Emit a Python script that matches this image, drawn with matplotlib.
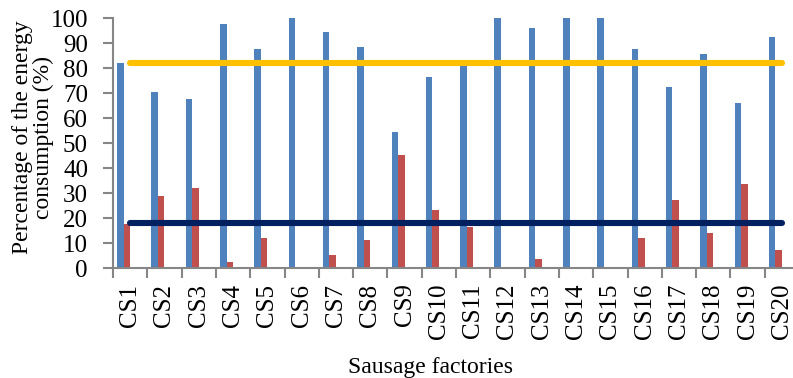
import matplotlib
matplotlib.use("Agg")
import matplotlib.pyplot as plt
import numpy as np

plt.rcParams['font.family'] = ['Liberation Serif', 'DejaVu Serif']

categories = ["CS%d" % i for i in range(1, 21)]
series_blue = [82, 70.6, 67.7, 97.6, 87.6, 100, 94.5, 88.5, 54.4, 76.4,
               82.5, 100, 96.1, 100, 100, 87.6, 72.4, 85.7, 66, 92.4]
series_red = [17.6, 29, 32, 2.4, 12.1, 0, 5.3, 11.3, 45.3, 23.3,
              16.7, 0, 3.7, 0, 0, 12.1, 27.3, 14, 33.7, 7.3]
line_yellow = [82] * 20
line_navy = [18] * 20
yticks = list(range(0, 101, 10))

fig = plt.figure(figsize=(7.93, 3.78), dpi=100)
ax = fig.add_axes([113 / 793, 109.7 / 378, 686 / 793, 250 / 378])

x = np.arange(len(categories))
w = 0.19
ax.bar(x - 1.5 * w, series_blue, width=w, color='#4F81BD', edgecolor='none', zorder=2)
ax.bar(x - 0.5 * w, series_red, width=w, color='#C0504D', edgecolor='none', zorder=2)
ax.plot(x, line_yellow, color='#FFC000', lw=4.4, solid_capstyle='round', zorder=3)
ax.plot(x, line_navy, color='#002060', lw=4.4, solid_capstyle='round', zorder=3)

ax.set_xlim(-0.5, len(categories) - 0.5)
ax.set_ylim(0, 100)
ax.set_yticks(yticks)
ax.set_yticklabels([str(v) for v in yticks], fontsize=18)
ax.set_xticks(np.arange(len(categories) + 1) - 0.5)
ax.set_xticklabels([])
ax.set_xticks(x, minor=True)
ax.set_xticklabels(categories, minor=True, rotation=90, fontsize=18)
ax.tick_params(axis='x', which='minor', length=0, pad=11)
ax.tick_params(axis='x', which='major', length=7, width=1.5, color='#868686', direction='out')
ax.tick_params(axis='y', length=7, width=1.5, color='#868686', direction='out', pad=11)

for s in ['top', 'right']:
    ax.spines[s].set_visible(False)
for s in ['left', 'bottom']:
    ax.spines[s].set_color('#868686')
    ax.spines[s].set_linewidth(1.5)

fig.text(33 / 793, 1 - 137.5 / 378, "Percentage of the energy\nconsumption (%)",
         rotation=90, ha='center', va='center', fontsize=17, linespacing=0.95)
fig.text(431 / 793, 5 / 378, "Sausage factories", ha='center', va='baseline', fontsize=17)

fig.savefig("out.png", dpi=100)
